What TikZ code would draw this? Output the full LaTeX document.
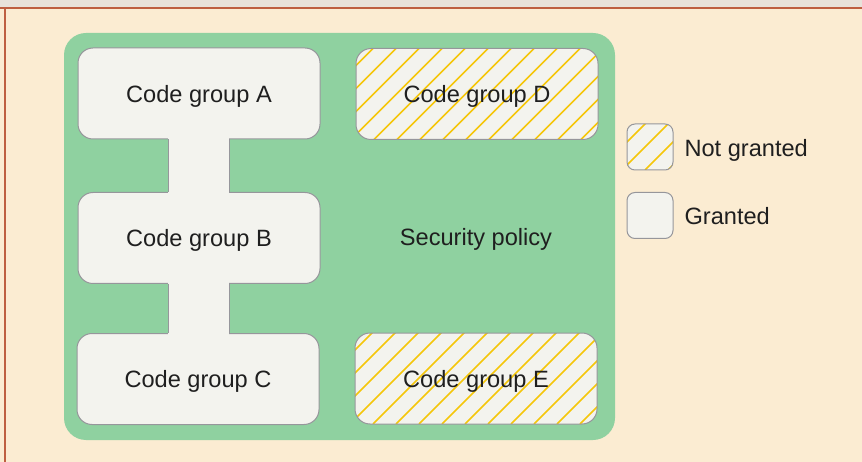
\documentclass[tikz,border=0pt]{standalone}
\usepackage{fontspec}
\setmainfont{Liberation Sans}
\definecolor{cream}{RGB}{251,236,210}
\definecolor{strip}{RGB}{232,226,218}
\definecolor{frameline}{RGB}{190,95,65}
\definecolor{policygreen}{RGB}{143,209,160}
\definecolor{boxfill}{RGB}{243,243,238}
\definecolor{boxline}{RGB}{150,150,155}
\definecolor{hatchyellow}{RGB}{245,198,10}
\begin{document}
\begin{tikzpicture}[x=1pt,y=-1pt,
  lbl/.style={font=\fontsize{23.6}{27}\selectfont, text=black!88, text depth=0pt},
  groupbox/.style={draw=boxline, line width=1pt, fill=boxfill, rounded corners=15pt,
    minimum width=242pt, minimum height=91pt, inner sep=0pt, lbl},
  hatched/.style={path picture={
    \foreach \i in {-120,-97,...,260}
      \draw[hatchyellow, line width=1.6pt]
        ([xshift=\i pt]path picture bounding box.south west) -- ++(130,-130);}},
  legendbox/.style={draw=boxline, line width=1pt, fill=boxfill, rounded corners=8pt,
    minimum width=46pt, minimum height=46pt, inner sep=0pt}]
\useasboundingbox (0,0) rectangle (862,462);
% page
\fill[cream] (0,0) rectangle (862,462);
\fill[strip] (0,0) rectangle (862,8);
\draw[frameline, line width=1.2pt] (0,8) -- (862,8);
\draw[frameline, line width=1.2pt] (5,8) -- (5,462);
% policy area
\fill[policygreen, rounded corners=22pt] (64,33) rectangle (615,440);
\node[lbl] (policy) at (476,237) {Security policy};
% granted groups
\node[groupbox] (A) at (199,93.5) {Code group A};
\node[groupbox] (B) at (199,238) {Code group B};
\node[groupbox] (C) at (198,379) {Code group C};
% connecting bars
\fill[boxfill] (168,136) rectangle (229,196);
\fill[boxfill] (168,280) rectangle (229,336);
\draw[boxline, line width=1pt] (A.south -| 168,0) -- (B.north -| 168,0);
\draw[boxline, line width=1pt] (A.south -| 229,0) -- (B.north -| 229,0);
\draw[boxline, line width=1pt] (B.south -| 168,0) -- (C.north -| 168,0);
\draw[boxline, line width=1pt] (B.south -| 229,0) -- (C.north -| 229,0);
% not granted groups
\node[groupbox, hatched] (D) at (477,94) {Code group D};
\node[groupbox, hatched] (E) at (476,378.5) {Code group E};
% legend
\node[legendbox, hatched] (ng) at (650,147) {};
\node[legendbox] (g) at (650,215.5) {};
\node[lbl, anchor=west] (ngt) at (681,148) {Not granted};
\node[lbl, anchor=west] (gt) at (681,216) {Granted};
\end{tikzpicture}
\end{document}
